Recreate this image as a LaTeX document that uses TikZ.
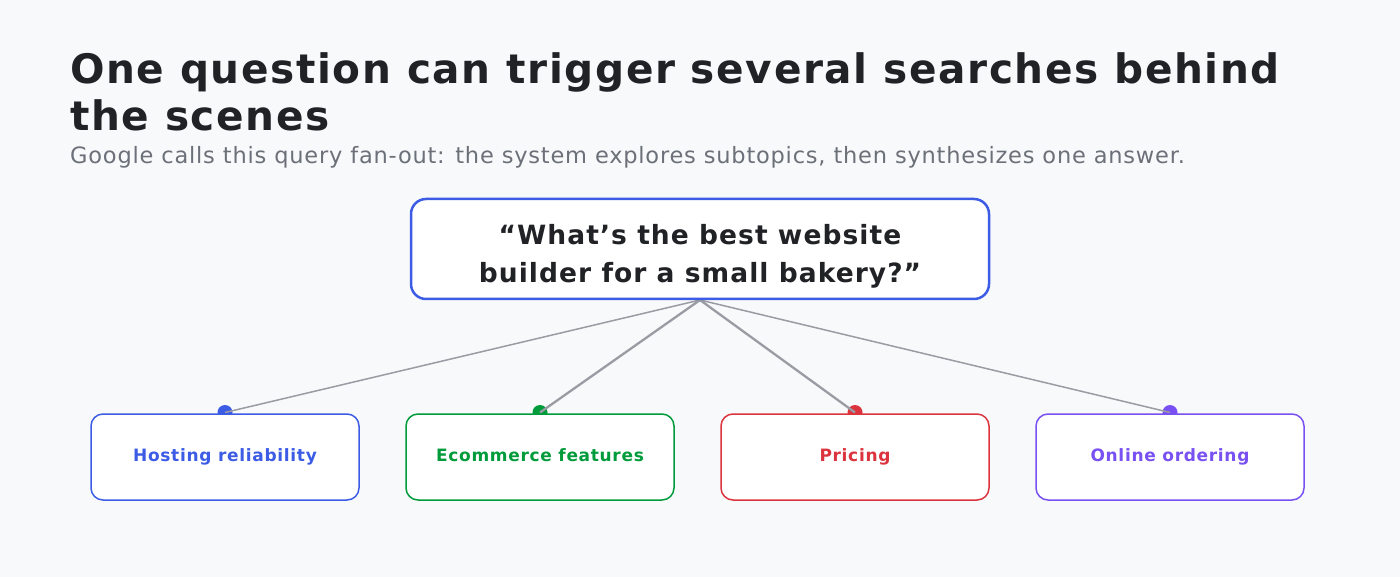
\documentclass[tikz,border=0pt]{standalone}
\usepackage{fontspec}
\setmainfont{DejaVu Sans}
\newfontfamily\widefont{DejaVu Sans}[LetterSpace=4]
\newfontfamily\subfont{DejaVu Sans}[LetterSpace=3.5]
\definecolor{bgc}{HTML}{F8F9FA}
\definecolor{titlec}{HTML}{212225}
\definecolor{subc}{HTML}{6B7079}
\definecolor{linec}{HTML}{9A9CA4}
\definecolor{cblue}{HTML}{3C5CE6}
\definecolor{cgreen}{HTML}{009B3A}
\definecolor{cred}{HTML}{DC343E}
\definecolor{cpurple}{HTML}{7950F2}
\begin{document}
\begin{tikzpicture}[x=1pt,y=-1pt,
  titletext/.style={anchor=base west,inner sep=0pt,text=titlec,font=\widefont\fontsize{40.6}{48}\selectfont\bfseries},
  subtext/.style={anchor=base west,inner sep=0pt,text=subc,font=\subfont\fontsize{22.5}{27}\selectfont},
  qtext/.style={anchor=base,inner sep=0pt,text=titlec,font=\widefont\fontsize{26.5}{31}\selectfont\bfseries},
  qbox/.style={draw=cblue,line width=2.5pt,fill=white,rounded corners=15pt},
  childbox/.style={line width=1.5pt,fill=white,rounded corners=12pt,minimum width=268pt,minimum height=86pt,inner sep=0pt,text height=13pt,text depth=4pt,font=\widefont\fontsize{17}{20}\selectfont\bfseries},
  link/.style={draw=linec,line width=1.5pt},
  linkin/.style={draw=linec,line width=2.3pt},
  dotc/.style={circle,inner sep=0pt,minimum size=15pt}
]
\useasboundingbox[fill=bgc] (0,0) rectangle (1400,577);
\node[titletext] (t1) at (70,84) {One question can trigger several searches behind};
\node[titletext] (t2) at (70,131) {the scenes};
\node[subtext] (sub) at (70,164) {Google calls this query fan-out: the system explores subtopics, then synthesizes one answer.};
\coordinate (hub) at (700,300);
% dots
\node[dotc,fill=cblue] (d1) at (225,412.5) {};
\node[dotc,fill=cgreen] (d2) at (540,412.5) {};
\node[dotc,fill=cred] (d3) at (855,412.5) {};
\node[dotc,fill=cpurple] (d4) at (1170,412.5) {};
\draw[link] (hub) -- (d1.center);
\draw[linkin] (hub) -- (d2.center);
\draw[linkin] (hub) -- (d3.center);
\draw[link] (hub) -- (d4.center);
% main box
\path[qbox] (411,199) rectangle (989,299);
\node[qtext] (q1) at (700,245) {“What’s the best website};
\node[qtext] (q2) at (700,283) {builder for a small bakery?”};
% children
\node[childbox,draw=cblue,text=cblue] (c1) at (225,457) {Hosting reliability};
\node[childbox,draw=cgreen,text=cgreen] (c2) at (540,457) {Ecommerce features};
\node[childbox,draw=cred,text=cred] (c3) at (855,457) {Pricing};
\node[childbox,draw=cpurple,text=cpurple] (c4) at (1170,457) {Online ordering};
\end{tikzpicture}
\end{document}
